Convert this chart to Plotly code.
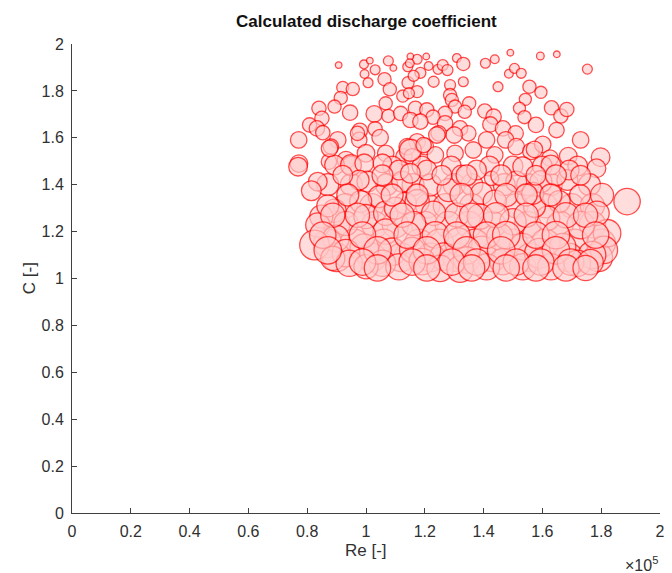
import plotly.graph_objects as go

# Reynolds number in units of 1e5, discharge coefficient C, bubble diameter (px)
re_1e5 = [
    0.907, 0.993, 1.013, 0.995, 1.031, 1.007, 1.076, 1.093, 1.063, 1.081, 1.125, 1.143, 1.142,
    0.921, 0.955, 0.914, 0.893, 0.840, 0.850, 0.808, 0.833, 0.853, 0.771, 0.946, 1.028, 1.067,
    1.076, 1.118, 0.979, 1.031, 0.904, 0.881, 0.977, 1.048, 0.772, 0.932, 1.000, 1.067, 0.874,
    1.129,
    1.174, 1.205, 1.151, 1.149, 1.213, 1.245, 1.261, 1.277, 1.309, 1.331, 1.406, 1.438, 1.491,
    1.185, 1.162, 1.230, 1.286, 1.331, 1.174, 1.286, 1.146, 1.449, 1.486, 1.505, 1.528, 1.556,
    1.542, 1.522, 1.539, 1.292, 1.303, 1.351, 1.336, 1.168, 1.207, 1.269, 1.228, 1.404, 1.434,
    1.423, 1.466, 1.509, 1.151, 1.185, 1.269, 1.320, 1.348, 1.247, 1.300, 1.174, 1.202, 1.410,
    1.475, 1.511, 1.140, 1.303, 1.365, 1.438, 1.236, 1.157, 1.561,
    1.593, 1.649, 1.753, 1.595, 1.631, 1.663, 1.683, 1.578, 1.648, 1.730, 1.601, 1.573, 1.688,
    1.626, 1.798, 1.784,
    # denser band, back layer
    0.950, 1.090, 1.190, 1.290, 1.420, 1.500, 1.600, 1.720,
    0.870, 0.950, 1.070, 1.160, 1.300, 1.360, 1.470, 1.550, 1.630, 1.760,
    0.930, 1.020, 1.210, 1.270, 1.360, 1.510, 1.610, 1.700, 1.770,
    0.900, 1.030, 1.100, 1.200, 1.280, 1.350, 1.430, 1.550, 1.660, 1.770,
    0.870, 0.960, 1.060, 1.180, 1.250, 1.370, 1.500, 1.610, 1.710, 1.800,
    0.900, 1.020, 1.120, 1.220, 1.310, 1.430, 1.560, 1.690, 1.790,
    # front layer
    0.769, 0.836, 0.814, 0.893, 0.949, 0.994, 1.005, 0.977, 1.056, 1.045, 0.982, 0.893, 0.848,
    0.836, 0.932, 1.000, 1.067, 1.067, 0.898, 0.825, 0.994, 0.932, 0.887, 0.943, 1.089, 1.056,
    1.000, 1.112, 1.123, 1.112, 1.134, 1.100,
    1.219, 1.174, 1.281, 1.393, 1.438, 1.511, 1.533, 1.427, 1.325, 1.376, 1.207, 1.151, 1.230,
    1.309, 1.387, 1.500, 1.162, 1.236, 1.314, 1.393, 1.455, 1.533, 1.157, 1.264, 1.342, 1.191,
    1.466, 1.533, 1.410, 1.252, 1.320,
    1.595, 1.685, 1.728, 1.803, 1.888, 1.657, 1.618, 1.730, 1.820, 1.809, 1.769, 1.590, 1.669,
    1.719, 1.629, 1.786, 1.573, 1.691, 1.629, 1.567,
    1.151, 1.241, 1.196, 0.876, 0.971, 0.870,
    0.921, 1.056, 1.258, 1.342, 1.460, 1.578, 1.646, 1.730,
    0.938, 1.089, 1.174, 1.325, 1.477, 1.545, 1.629,
    0.887, 0.971, 1.123, 1.359, 1.443, 1.545, 1.680, 1.747,
    0.853, 0.988, 1.140, 1.309, 1.410, 1.477, 1.578, 1.646, 1.781,
    0.870, 1.039, 1.207, 1.342, 1.460, 1.646,
    0.988, 1.157, 1.292, 1.376, 1.511, 1.595, 1.696, 1.764,
    1.039, 1.207, 1.359, 1.477, 1.578, 1.680, 1.747,
]

c_coef = [
    1.910, 1.913, 1.929, 1.872, 1.890, 1.835, 1.928, 1.898, 1.850, 1.807, 1.778, 1.835, 1.903,
    1.815, 1.808, 1.770, 1.733, 1.726, 1.683, 1.655, 1.640, 1.622, 1.591, 1.707, 1.702, 1.747,
    1.693, 1.704, 1.630, 1.638, 1.591, 1.562, 1.591, 1.601, 1.490, 1.505, 1.534, 1.534, 1.498,
    1.519,
    1.935, 1.947, 1.947, 1.918, 1.906, 1.892, 1.910, 1.889, 1.940, 1.915, 1.918, 1.935, 1.963,
    1.877, 1.864, 1.839, 1.825, 1.839, 1.797, 1.782, 1.790, 1.818, 1.873, 1.896, 1.875, 1.818,
    1.764, 1.726, 1.688, 1.761, 1.733, 1.747, 1.711, 1.726, 1.719, 1.704, 1.688, 1.714, 1.690,
    1.657, 1.640, 1.619, 1.676, 1.669, 1.662, 1.640, 1.619, 1.619, 1.612, 1.583, 1.562, 1.591,
    1.591, 1.562, 1.562, 1.534, 1.548, 1.527, 1.527, 1.519, 1.542,
    1.949, 1.956, 1.893, 1.794, 1.728, 1.693, 1.721, 1.655, 1.633, 1.591, 1.572, 1.551, 1.522,
    1.513, 1.517, 1.470,
    1.480, 1.480, 1.480, 1.480, 1.480, 1.480, 1.480, 1.480,
    1.400, 1.400, 1.400, 1.400, 1.400, 1.400, 1.400, 1.400, 1.400, 1.400,
    1.310, 1.310, 1.310, 1.310, 1.310, 1.310, 1.310, 1.310, 1.310,
    1.230, 1.230, 1.230, 1.230, 1.230, 1.230, 1.230, 1.230, 1.230, 1.230,
    1.150, 1.150, 1.150, 1.150, 1.150, 1.150, 1.150, 1.150, 1.150, 1.150,
    1.090, 1.090, 1.090, 1.090, 1.090, 1.090, 1.090, 1.090, 1.090,
    1.477, 1.413, 1.374, 1.484, 1.484, 1.491, 1.413, 1.420, 1.491, 1.349, 1.328, 1.289, 1.264,
    1.228, 1.235, 1.264, 1.278, 1.200, 1.171, 1.143, 1.129, 1.108, 1.086, 1.065, 1.114, 1.065,
    1.050, 1.050, 1.413, 1.463, 1.321, 1.300,
    1.399, 1.328, 1.377, 1.363, 1.328, 1.413, 1.477, 1.427, 1.441, 1.463, 1.463, 1.449, 1.278,
    1.271, 1.264, 1.242, 1.235, 1.186, 1.157, 1.122, 1.178, 1.136, 1.122, 1.093, 1.079, 1.072,
    1.072, 1.050, 1.050, 1.043, 1.040,
    1.413, 1.420, 1.356, 1.356, 1.328, 1.328, 1.257, 1.228, 1.193, 1.122, 1.100, 1.108, 1.136,
    1.065, 1.050, 1.278, 1.307, 1.463, 1.484, 1.363,
    1.547, 1.612, 1.569, 1.555, 1.619, 1.310,
    1.440, 1.440, 1.440, 1.440, 1.440, 1.440, 1.440, 1.440,
    1.356, 1.356, 1.356, 1.356, 1.356, 1.356, 1.356,
    1.270, 1.270, 1.270, 1.270, 1.270, 1.270, 1.270, 1.270,
    1.185, 1.185, 1.185, 1.185, 1.185, 1.185, 1.185, 1.185, 1.185,
    1.120, 1.120, 1.120, 1.120, 1.120, 1.120,
    1.070, 1.070, 1.070, 1.070, 1.070, 1.070, 1.070, 1.070,
    1.045, 1.045, 1.045, 1.045, 1.045, 1.045, 1.045,
]

bubble_d = [
    6, 8, 6, 8, 9, 9, 9, 6, 12, 12, 11, 11, 9,
    11, 12, 12, 12, 13, 13, 13, 14, 13, 15, 14, 15, 12,
    12, 13, 14, 13, 15, 14, 14, 15, 16, 16, 16, 15, 14,
    15,
    9, 6, 6, 8, 8, 9, 10, 10, 8, 12, 9, 8, 6,
    10, 10, 10, 10, 9, 11, 12, 10, 9, 8, 9, 9, 12,
    11, 11, 12, 12, 12, 12, 12, 13, 13, 13, 13, 13, 14,
    14, 14, 14, 14, 14, 14, 14, 14, 14, 15, 15, 15, 15,
    15, 15, 15, 15, 15, 15, 15, 15, 15,
    7, 6, 9, 11, 13, 13, 13, 14, 14, 15, 15, 15, 16,
    15, 17, 17,
    18, 18, 18, 18, 18, 18, 18, 18,
    20, 20, 20, 20, 20, 20, 20, 20, 20, 20,
    22, 22, 22, 22, 22, 22, 22, 22, 22,
    24, 24, 24, 24, 24, 24, 24, 24, 24, 24,
    26, 26, 26, 26, 26, 26, 26, 26, 26, 26,
    26, 26, 26, 26, 26, 26, 26, 26, 26,
    17, 17, 18, 18, 19, 17, 19, 18, 17, 20, 20, 21, 21,
    22, 22, 22, 22, 23, 24, 27, 26, 25, 22, 24, 25, 24,
    22, 24, 19, 18, 20, 20,
    20, 22, 21, 20, 21, 19, 18, 13, 18, 18, 18, 18, 22,
    22, 23, 24, 22, 24, 25, 25, 24, 24, 23, 25, 24, 24,
    24, 24, 24, 24, 24,
    20, 19, 19, 21, 24, 20, 22, 25, 25, 25, 25, 27, 24,
    24, 24, 22, 20, 18, 18, 20,
    20, 15, 14, 15, 13, 20,
    18, 19, 18, 19, 19, 18, 19, 18,
    20, 20, 20, 21, 21, 20, 20,
    22, 22, 22, 22, 23, 22, 23, 22,
    24, 24, 24, 24, 24, 25, 24, 25, 24,
    25, 25, 25, 25, 25, 25,
    24, 24, 24, 24, 24, 24, 24, 23,
    24, 24, 24, 24, 24, 24, 23,
]

x_ticks = [0, 0.2, 0.4, 0.6, 0.8, 1, 1.2, 1.4, 1.6, 1.8, 2]
y_ticks = [0, 0.2, 0.4, 0.6, 0.8, 1, 1.2, 1.4, 1.6, 1.8, 2]

FONT = "Liberation Sans, Arial, Helvetica, sans-serif"
AX = "#404040"
SIZE_SCALE = 1.1

fig = go.Figure()
fig.add_trace(go.Scatter(
    x=re_1e5, y=c_coef, mode="markers",
    marker=dict(size=[d * SIZE_SCALE for d in bubble_d], sizemode="diameter",
                color="rgba(255,204,204,0.93)",
                line=dict(color="#ff0000", width=1.3)),
    showlegend=False, hoverinfo="x+y",
))

axis_common = dict(
    showgrid=False, zeroline=False, showline=True, linecolor=AX, linewidth=1,
    ticks="inside", ticklen=5, tickcolor=AX, tickwidth=1,
    tickfont=dict(family=FONT, size=16, color="#303030"),
    mirror=False,
)
fig.update_xaxes(range=[0, 2], tickvals=x_ticks, ticktext=[f"{v:g}" for v in x_ticks],
                 ticklabelstandoff=4, **axis_common)
fig.update_yaxes(range=[0, 2], tickvals=y_ticks, ticktext=[f"{v:g}" for v in y_ticks],
                 ticklabelstandoff=4, **axis_common)

fig.update_layout(
    width=672, height=573,
    margin=dict(l=72, r=7, t=44, b=60),
    paper_bgcolor="white", plot_bgcolor="white",
    font=dict(family=FONT, color="#303030"),
    annotations=[
        dict(text="<b>Calculated discharge coefficient</b>", xref="paper", yref="paper",
             x=0.5, y=1.047, showarrow=False, xanchor="center", yanchor="middle",
             font=dict(family=FONT, size=17, color="#111111")),
        dict(text="Re [-]", xref="paper", yref="paper", x=0.5, y=-0.08,
             showarrow=False, xanchor="center", yanchor="middle",
             font=dict(family=FONT, size=17, color="#303030")),
        dict(text="C [-]", xref="paper", yref="paper", x=-0.072, y=0.5, textangle=-90,
             showarrow=False, xanchor="center", yanchor="middle",
             font=dict(family=FONT, size=17, color="#303030")),
        dict(text="×10<sup>5</sup>", xref="paper", yref="paper", x=1.0, y=-0.108,
             showarrow=False, xanchor="right", yanchor="middle",
             font=dict(family=FONT, size=16, color="#303030")),
    ],
)

fig.write_html("out.html")
